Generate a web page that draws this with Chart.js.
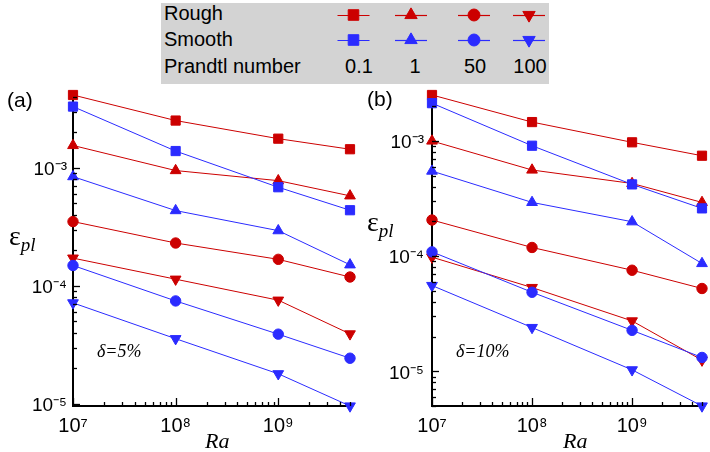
<!DOCTYPE html>
<html>
<head>
<meta charset="utf-8">
<script src="https://cdn.jsdelivr.net/npm/chart.js@4.4.1/dist/chart.umd.min.js"></script>
<style>
  html, body { margin: 0; padding: 0; background: #fff; }
  body { width: 710px; height: 452px; position: relative; overflow: hidden; font-family: 'Liberation Sans', Arial, sans-serif; }
  canvas.plot { position: absolute; top: 0; }
  .txt { position: absolute; white-space: nowrap; color: #000; }
  .lab { font-size: 21px; line-height: 21px; }
  .eps { font-family: 'Liberation Serif', 'Times New Roman', serif; font-size: 28px; line-height: 28px; }
  .eps i { font-size: 19px; position: relative; top: 6px; }
  .ital { font-family: 'Liberation Serif', 'Times New Roman', serif; font-style: italic; }
  #legend { position: absolute; left: 161px; top: 3px; width: 388px; height: 81px; background: #d3d3d3; }
  #legend .row { position: absolute; font-size: 20px; line-height: 20px; }
</style>
</head>
<body>
<div id="legend">
  <div class="row" style="left:3px;top:0px;">Rough</div>
  <div class="row" style="left:3px;top:26px;">Smooth</div>
  <div class="row" style="left:3px;top:53px;">Prandtl number</div>
  <div class="row" id="pr0" style="top:53px;"></div>
  <div class="row" id="pr1" style="top:53px;"></div>
  <div class="row" id="pr2" style="top:53px;"></div>
  <div class="row" id="pr3" style="top:53px;"></div>
  <canvas id="legSym" width="388" height="81" style="position:absolute;left:0;top:0;"></canvas>
</div>
<canvas class="plot" id="chartA" width="360" height="452" style="left:0;"></canvas>
<canvas class="plot" id="chartB" width="355" height="452" style="left:355px;"></canvas>

<div class="txt lab" style="left:7px;top:89px;">(a)</div>
<div class="txt lab" style="left:367px;top:88px;">(b)</div>
<div class="txt eps" style="left:9px;top:222px;">ε<i>pl</i></div>
<div class="txt eps" style="left:367px;top:208px;">ε<i>pl</i></div>
<div class="txt ital" style="left:97px;top:341px;font-size:18px;">δ=5%</div>
<div class="txt ital" style="left:456px;top:341px;font-size:18px;">δ=10%</div>
<div class="txt ital" style="left:205px;top:428px;font-size:22px;">Ra</div>
<div class="txt ital" style="left:563px;top:428px;font-size:22px;">Ra</div>

<script>
// ---------------- data ----------------
const raValues = [1e7, 1e8, 1e9, 5e9];
const prandtlLabels = ['0.1', '1', '50', '100'];

// Panel (a): delta = 5%
const roughA_Pr01  = [4.15e-3, 2.52e-3, 1.77e-3, 1.44e-3];
const smoothA_Pr01 = [3.31e-3, 1.39e-3, 6.86e-4, 4.38e-4];
const roughA_Pr1   = [1.55e-3, 9.5e-4, 7.8e-4, 5.8e-4];
const smoothA_Pr1  = [8.44e-4, 4.35e-4, 2.94e-4, 1.51e-4];
const roughA_Pr50  = [3.51e-4, 2.31e-4, 1.68e-4, 1.19e-4];
const smoothA_Pr50 = [1.49e-4, 7.46e-5, 3.9e-5, 2.44e-5];
const roughA_Pr100 = [1.72e-4, 1.14e-4, 7.57e-5, 3.92e-5];
const smoothA_Pr100= [7.18e-5, 3.57e-5, 1.8e-5, 9.6e-6];

// Panel (b): delta = 10%
const roughB_Pr01  = [2.51e-3, 1.46e-3, 9.74e-4, 7.45e-4];
const smoothB_Pr01 = [2.13e-3, 9.1e-4, 4.2e-4, 2.6e-4];
const roughB_Pr1   = [1.0e-3, 5.6e-4, 4.28e-4, 2.93e-4];
const smoothB_Pr1  = [5.48e-4, 2.93e-4, 1.99e-4, 8.64e-5];
const roughB_Pr50  = [2.06e-4, 1.19e-4, 7.55e-5, 5.24e-5];
const smoothB_Pr50 = [1.09e-4, 4.86e-5, 2.27e-5, 1.32e-5];
const roughB_Pr100 = [9.8e-5, 5.34e-5, 2.74e-5, 1.25e-5];
const smoothB_Pr100= [5.56e-5, 2.4e-5, 1.03e-5, 5.0e-6];

const xRange = [1e7, 5e9];
const yRangeA = [9.6e-6, 4.4e-3];
const yRangeB = [5.0e-6, 2.27e-3];

// ---------------- styling ----------------
const RED = '#cc0000';
const BLUE = '#2b2bff';
const markers = [
  { pointStyle: 'rect', radius: 6.5, rotation: 0 },
  { pointStyle: 'triangle', radius: 6.2, rotation: 0 },
  { pointStyle: 'circle', radius: 5.2, rotation: 0 },
  { pointStyle: 'triangle', radius: 6.2, rotation: 180 }
];

function isPow10(v) {
  const l = Math.log10(v);
  return Math.abs(l - Math.round(l)) < 1e-9;
}
const SUP = { '-': '⁻', '0': '⁰', '1': '¹', '2': '²', '3': '³', '4': '⁴', '5': '⁵', '6': '⁶', '7': '⁷', '8': '⁸', '9': '⁹' };
function powLabel(v) {
  if (!isPow10(v)) return '';
  const e = String(Math.round(Math.log10(v)));
  return '10' + e.split('').map(c => SUP[c]).join('');
}
function logTicks(min, max) {
  const out = [];
  for (let e = Math.floor(Math.log10(min)); e <= Math.ceil(Math.log10(max)); e++) {
    for (let m = 1; m < 10; m++) {
      const v = m * Math.pow(10, e);
      if (v >= min * 0.9999 && v <= max * 1.0001) out.push({ value: v });
    }
  }
  return out;
}

function ds(data, color, idx, order) {
  const mk = markers[idx];
  return {
    data: raValues.map((x, i) => ({ x: x, y: data[i] })),
    borderColor: color,
    backgroundColor: color,
    borderWidth: 1,
    pointStyle: mk.pointStyle,
    pointRadius: mk.radius,
    pointRotation: mk.rotation,
    pointBorderWidth: 1,
    pointBackgroundColor: color,
    pointBorderColor: color,
    clip: false,
    order: order,
    tension: 0
  };
}

const inwardTicks = {
  id: 'inwardTicks',
  afterDraw(chart) {
    const ctx = chart.ctx;
    const area = chart.chartArea;
    const xs = chart.scales.x, ys = chart.scales.y;
    ctx.save();
    ctx.strokeStyle = '#000';
    ctx.lineWidth = 1.3;
    xs.ticks.forEach(t => {
      const px = Math.round(xs.getPixelForValue(t.value)) + 0.5;
      const len = isPow10(t.value) ? 8 : 4;
      ctx.beginPath();
      ctx.moveTo(px, area.bottom);
      ctx.lineTo(px, area.bottom - len);
      ctx.stroke();
    });
    ys.ticks.forEach(t => {
      const py = Math.round(ys.getPixelForValue(t.value)) + 0.5;
      const len = isPow10(t.value) ? 7 : 4;
      ctx.beginPath();
      ctx.moveTo(area.left, py);
      ctx.lineTo(area.left + len, py);
      ctx.stroke();
    });
    ctx.restore();
  }
};

function makeChart(id, sets, yRange, pad, yWidth, yPadding) {
  const datasets = [
    ds(sets.s01, BLUE, 0, 0), ds(sets.s1, BLUE, 1, 0), ds(sets.s50, BLUE, 2, 0), ds(sets.s100, BLUE, 3, 0),
    ds(sets.r01, RED, 0, 1), ds(sets.r1, RED, 1, 1), ds(sets.r50, RED, 2, 1), ds(sets.r100, RED, 3, 1)
  ];
  return new Chart(document.getElementById(id), {
    type: 'line',
    data: { datasets: datasets },
    plugins: [inwardTicks],
    options: {
      responsive: false,
      animation: false,
      devicePixelRatio: 1,
      layout: { padding: pad },
      plugins: { legend: { display: false }, tooltip: { enabled: false } },
      scales: {
        x: {
          type: 'logarithmic',
          min: xRange[0], max: xRange[1],
          grid: { display: false, drawTicks: false },
          border: { display: true, color: '#000', width: 2 },
          afterBuildTicks: s => { s.ticks = logTicks(xRange[0], xRange[1]); },
          afterFit: s => { s.height = 46; },
          ticks: {
            autoSkip: false, maxRotation: 0, minRotation: 0, padding: 8,
            color: '#000',
            font: { family: "'Liberation Sans', Arial, sans-serif", size: 20 },
            callback: v => powLabel(v)
          }
        },
        y: {
          type: 'logarithmic',
          min: yRange[0], max: yRange[1],
          grid: { display: false, drawTicks: false },
          border: { display: true, color: '#000', width: 2 },
          afterBuildTicks: s => { s.ticks = logTicks(yRange[0], yRange[1]); },
          afterFit: s => { s.width = yWidth; },
          ticks: {
            autoSkip: false, padding: yPadding, labelOffset: 2,
            color: '#000',
            font: { family: "'Liberation Sans', Arial, sans-serif", size: 19 },
            callback: v => powLabel(v)
          }
        }
      }
    }
  });
}

makeChart('chartA', {
  r01: roughA_Pr01, s01: smoothA_Pr01, r1: roughA_Pr1, s1: smoothA_Pr1,
  r50: roughA_Pr50, s50: smoothA_Pr50, r100: roughA_Pr100, s100: smoothA_Pr100
}, yRangeA, { left: 0, top: 92, right: 10, bottom: 0 }, 73, 6);

makeChart('chartB', {
  r01: roughB_Pr01, s01: smoothB_Pr01, r1: roughB_Pr1, s1: smoothB_Pr1,
  r50: roughB_Pr50, s50: smoothB_Pr50, r100: roughB_Pr100, s100: smoothB_Pr100
}, yRangeB, { left: 0, top: 100, right: 2, bottom: 0 }, 77, 8);

// ---------------- legend symbols ----------------
(function () {
  const c = document.getElementById('legSym');
  const ctx = c.getContext('2d');
  const cols = [192.5, 250, 313, 368];
  const rows = [{ y: 12, color: RED }, { y: 37, color: BLUE }];
  const drawPt = Chart.helpers && Chart.helpers.drawPoint;
  rows.forEach(r => {
    cols.forEach((cx, i) => {
      ctx.strokeStyle = r.color;
      ctx.lineWidth = 1.2;
      ctx.beginPath();
      ctx.moveTo(cx - 16, r.y + 0.5);
      ctx.lineTo(cx + 16, r.y + 0.5);
      ctx.stroke();
      const mk = markers[i];
      ctx.fillStyle = r.color;
      ctx.strokeStyle = r.color;
      ctx.lineWidth = 1;
      if (drawPt) {
        drawPt(ctx, { pointStyle: mk.pointStyle, radius: mk.radius * 1.15, rotation: mk.rotation, borderWidth: 1 }, cx, r.y);
      } else {
        ctx.beginPath();
        ctx.arc(cx, r.y, 6, 0, Math.PI * 2);
        ctx.fill();
      }
    });
  });
  const lblCenters = [198, 254, 314, 369];
  prandtlLabels.forEach((t, i) => {
    const el = document.getElementById('pr' + i);
    el.textContent = t;
    el.style.left = (lblCenters[i] - 40) + 'px';
    el.style.width = '80px';
    el.style.textAlign = 'center';
  });
})();
</script>
</body>
</html>
